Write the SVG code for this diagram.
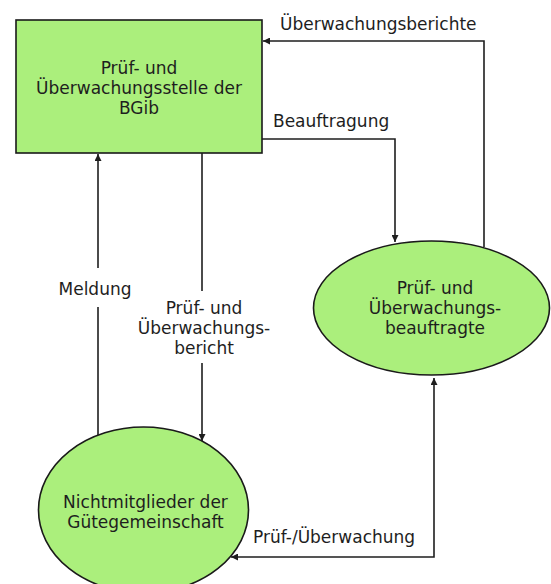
<svg xmlns="http://www.w3.org/2000/svg" width="551" height="584" viewBox="0 0 551 584">
  <style>
    .node { fill: #abef7c; stroke: #1a1a1a; stroke-width: 1.6; }
    .lbl { font-family: "DejaVu Sans", "Open Sans", sans-serif; font-size: 17px; fill: #1e1e1e; }
    .c { text-anchor: middle; }
    .edge { fill: none; stroke: #1e1e1e; stroke-width: 1.6; }
  </style>
  <defs>
    <marker id="arr" viewBox="0 0 10 10" refX="10" refY="5" markerWidth="8" markerHeight="7" markerUnits="userSpaceOnUse" orient="auto-start-reverse">
      <path d="M0,0 L10,5 L0,10 z" fill="#1e1e1e"/>
    </marker>
  </defs>
  <rect width="551" height="584" fill="#ffffff"/>

  <g id="stelle">
    <rect class="node" x="16" y="20" width="246" height="133"/>
    <text class="lbl c" x="139" y="74">Prüf- und</text>
    <text class="lbl c" x="139" y="94">Überwachungsstelle der</text>
    <text class="lbl c" x="139" y="114">BGib</text>
  </g>

  <g id="beauftragte">
    <ellipse class="node" cx="431.5" cy="308" rx="118" ry="67"/>
    <text class="lbl c" x="435" y="294">Prüf- und</text>
    <text class="lbl c" x="435" y="314">Überwachungs-</text>
    <text class="lbl c" x="435" y="334">beauftragte</text>
  </g>

  <g id="nichtmitglieder">
    <ellipse class="node" cx="143.5" cy="510" rx="105" ry="83"/>
    <text class="lbl c" x="145.5" y="508">Nichtmitglieder der</text>
    <text class="lbl c" x="145.5" y="528">Gütegemeinschaft</text>
  </g>

  <g id="connectors">
    <path class="edge" d="M484,247 V41 H263" marker-end="url(#arr)"/>
    <text class="lbl" x="280" y="30">Überwachungsberichte</text>

    <path class="edge" d="M262,139 H395 V242" marker-end="url(#arr)"/>
    <text class="lbl" x="273" y="127">Beauftragung</text>

    <path class="edge" d="M98,435 V307"/>
    <path class="edge" d="M98,268 V154" marker-end="url(#arr)"/>
    <text class="lbl c" x="95" y="295">Meldung</text>

    <path class="edge" d="M202,153 V291"/>
    <path class="edge" d="M202,363 V441" marker-end="url(#arr)"/>
    <text class="lbl c" x="204" y="314">Prüf- und</text>
    <text class="lbl c" x="204" y="334">Überwachungs-</text>
    <text class="lbl c" x="204" y="354">bericht</text>

    <path class="edge" d="M231,557 H434 V378" marker-start="url(#arr)" marker-end="url(#arr)"/>
    <text class="lbl" x="253" y="543">Prüf-/Überwachung</text>
  </g>
</svg>
